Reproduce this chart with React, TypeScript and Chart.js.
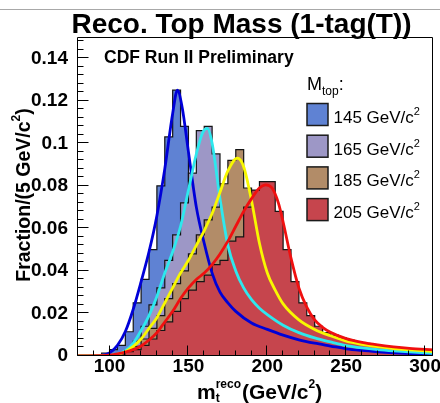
import { useEffect, useRef } from "react";
import { Chart, registerables } from "chart.js";

Chart.register(...registerables);

// ---------- data ----------
const binStarts = [
  80, 85, 90, 95, 100, 105, 110, 115, 120, 125, 130, 135, 140, 145, 150,
  155, 160, 165, 170, 175, 180, 185, 190, 195, 200, 205, 210, 215, 220, 225,
  230, 235, 240, 245, 250, 255, 260, 265, 270, 275, 280, 285, 290, 295, 300,
];
const histEnd = 305;

const hist145 = [
  0, 0, 0, 0.0014, 0.003,
  0.005, 0.0114, 0.025, 0.036, 0.05,
  0.08, 0.103, 0.125, 0.108, 0.082,
  0.062, 0.046, 0.035, 0.028, 0.024,
  0.021, 0.018, 0.016, 0.014, 0.0125,
  0.011, 0.0098, 0.0087, 0.0076, 0.0068,
  0.006, 0.0053, 0.0047, 0.004, 0.0034,
  0.003, 0.0026, 0.0022, 0.0019, 0.0017,
  0.0014, 0.0012, 0.001, 0.0009, 0.0007,
];
const hist165 = [
  0, 0, 0, 0, 0.0003,
  0.001, 0.003, 0.007, 0.014, 0.024,
  0.032, 0.045, 0.057, 0.072, 0.086,
  0.106, 0.108, 0.095, 0.07, 0.05,
  0.039, 0.031, 0.026, 0.022, 0.019,
  0.017, 0.0145, 0.0125, 0.011, 0.0095,
  0.0085, 0.0075, 0.0066, 0.0057, 0.0048,
  0.0042, 0.0037, 0.0033, 0.0029, 0.0026,
  0.0023, 0.002, 0.0018, 0.0016, 0.0014,
];
const hist185 = [
  0, 0, 0, 0, 0.0002,
  0.0008, 0.002, 0.0045, 0.008, 0.013,
  0.019, 0.027, 0.034, 0.04, 0.048,
  0.057, 0.064, 0.07, 0.081, 0.092,
  0.097, 0.079, 0.06, 0.045, 0.036,
  0.029, 0.024, 0.02, 0.017, 0.0145,
  0.0125, 0.0108, 0.0094, 0.0082, 0.0072,
  0.0064, 0.0057, 0.0051, 0.0046, 0.0041,
  0.0037, 0.0034, 0.0031, 0.0028, 0.0025,
];
const hist205 = [
  0, 0, 0, 0.0002, 0.0005,
  0.001, 0.002, 0.003, 0.005, 0.008,
  0.012, 0.016, 0.021, 0.027, 0.031,
  0.035, 0.038, 0.043, 0.045, 0.054,
  0.056, 0.07, 0.078, 0.082, 0.082,
  0.068, 0.05, 0.035, 0.025, 0.019,
  0.014, 0.011, 0.0098, 0.0085, 0.0075,
  0.0068, 0.006, 0.0052, 0.0047, 0.0043,
  0.004, 0.0037, 0.0034, 0.0032, 0.003,
];

const fit145X = [80, 95, 100, 105, 110, 115, 120, 125, 130, 135, 140, 143, 146, 150, 155, 160, 165, 170, 175, 180, 190, 200, 210, 220, 230, 240, 250, 260, 270, 280, 290, 305];
const fit145Y = [0, 0.0003, 0.0015, 0.005, 0.0115, 0.022, 0.035, 0.049, 0.066, 0.088, 0.114, 0.125, 0.117, 0.096, 0.07, 0.053, 0.039, 0.03, 0.025, 0.021, 0.0155, 0.0125, 0.0098, 0.0076, 0.006, 0.0047, 0.0034, 0.0026, 0.002, 0.0015, 0.0011, 0.0006];

const fit165X = [80, 100, 105, 110, 115, 120, 125, 130, 135, 140, 145, 150, 155, 159, 162, 165, 170, 175, 180, 185, 190, 195, 200, 210, 220, 230, 240, 250, 260, 270, 280, 290, 305];
const fit165Y = [0, 0.0002, 0.0008, 0.0025, 0.006, 0.012, 0.019, 0.028, 0.039, 0.049, 0.061, 0.078, 0.095, 0.105, 0.107, 0.1, 0.074, 0.052, 0.04, 0.032, 0.0265, 0.0225, 0.0195, 0.0145, 0.011, 0.0085, 0.0066, 0.0049, 0.0038, 0.003, 0.0024, 0.0019, 0.0013];

const fit185X = [80, 100, 105, 110, 115, 120, 125, 130, 135, 140, 145, 150, 155, 160, 165, 170, 175, 181, 185, 190, 195, 200, 205, 210, 220, 230, 240, 250, 260, 270, 280, 290, 305];
const fit185Y = [0, 0.0002, 0.0008, 0.002, 0.0045, 0.008, 0.013, 0.018, 0.025, 0.032, 0.039, 0.045, 0.052, 0.059, 0.067, 0.077, 0.087, 0.093, 0.089, 0.073, 0.053, 0.039, 0.031, 0.0245, 0.017, 0.0125, 0.0095, 0.007, 0.0055, 0.0044, 0.0035, 0.0029, 0.0021];

const fit205X = [80, 100, 105, 110, 115, 120, 125, 130, 135, 140, 145, 150, 155, 160, 165, 170, 175, 180, 185, 190, 195, 199, 203, 207, 210, 215, 220, 225, 230, 235, 240, 250, 260, 270, 280, 290, 305];
const fit205Y = [0, 0.0004, 0.001, 0.0018, 0.003, 0.0047, 0.0075, 0.011, 0.016, 0.021, 0.027, 0.032, 0.036, 0.039, 0.043, 0.048, 0.054, 0.061, 0.068, 0.074, 0.079, 0.0805, 0.079, 0.072, 0.063, 0.046, 0.032, 0.023, 0.017, 0.0135, 0.0112, 0.0082, 0.0064, 0.0052, 0.0043, 0.0036, 0.0029];

const massLabels = ["145", "165", "185", "205"];
const histColors = ["#5f82d3", "#9d97c6", "#b28c68", "#c6454d"];
const fitColors = ["#0000d8", "#2ee8ee", "#f8f800", "#f01010"];

const xTickValues = [100, 150, 200, 250, 300];
const xTickLabels = ["100", "150", "200", "250", "300"];
const yTickValues = [0, 0.02, 0.04, 0.06, 0.08, 0.1, 0.12, 0.14];
const yTickLabels = ["0", "0.02", "0.04", "0.06", "0.08", "0.1", "0.12", "0.14"];

const X_MIN = 80;
const X_MAX = 305;
const Y_MAX = 0.15;

const titleText = "Reco. Top Mass (1-tag(T))";
const cdfText = "CDF Run II Preliminary";

const FONT = '"Liberation Sans", Arial, Helvetica, sans-serif';

type Run = { t: string; size: number; bold?: boolean; dy?: number };

function runsWidth(ctx: CanvasRenderingContext2D, runs: Run[]) {
  let w = 0;
  for (const r of runs) {
    ctx.font = `${r.bold ? "bold " : ""}${r.size}px ${FONT}`;
    w += ctx.measureText(r.t).width;
  }
  return w;
}

function drawRuns(ctx: CanvasRenderingContext2D, x: number, y: number, runs: Run[], align: "left" | "center") {
  let cx = align === "center" ? x - runsWidth(ctx, runs) / 2 : x;
  ctx.textAlign = "left";
  ctx.textBaseline = "alphabetic";
  for (const r of runs) {
    ctx.font = `${r.bold ? "bold " : ""}${r.size}px ${FONT}`;
    ctx.fillText(r.t, cx, y + (r.dy || 0));
    cx += ctx.measureText(r.t).width;
  }
}

const decorPlugin = {
  id: "decor",
  afterDraw(chart: any) {
    const { ctx, chartArea: a, scales } = chart;
    const xs = scales.x;
    const ys = scales.y;
    ctx.save();
    ctx.fillStyle = "#000";

    // thin grey line at top of the picture
    ctx.strokeStyle = "#a8a8a8";
    ctx.lineWidth = 1;
    ctx.beginPath();
    ctx.moveTo(0, 9.5);
    ctx.lineTo(440, 9.5);
    ctx.stroke();

    // frame
    ctx.strokeStyle = "#000";
    ctx.lineWidth = 1;
    const L = Math.round(a.left) - 0.5;
    const R = Math.round(a.right) - 0.5;
    const T = Math.round(a.top) + 0.5;
    const B = Math.round(a.bottom) - 0.5;
    ctx.beginPath();
    ctx.moveTo(L, T);
    ctx.lineTo(R, T);
    ctx.lineTo(R, B);
    ctx.lineTo(L, B);
    ctx.closePath();
    ctx.stroke();

    // y ticks (inside)
    ctx.beginPath();
    for (let k = 0; k * 0.004 <= Y_MAX + 1e-9; k++) {
      const y = Math.round(ys.getPixelForValue(k * 0.004)) - 0.5;
      const len = k % 5 === 0 ? 11 : 6;
      ctx.moveTo(L, y);
      ctx.lineTo(L + len, y);
    }
    // x ticks (inside)
    for (let g = X_MIN; g <= X_MAX; g += 10) {
      const x = Math.round(xs.getPixelForValue(g)) - 0.5;
      const len = g % 50 === 0 ? 10 : 5;
      ctx.moveTo(x, B);
      ctx.lineTo(x, B - len);
    }
    ctx.stroke();

    // title
    ctx.fillStyle = "#000";
    ctx.font = `bold 28px ${FONT}`;
    ctx.textAlign = "center";
    ctx.textBaseline = "alphabetic";
    ctx.fillText(titleText, 241.5, 33);

    // CDF label
    ctx.font = `bold 17.5px ${FONT}`;
    ctx.textAlign = "left";
    ctx.fillText(cdfText, 104, 63);

    // legend header M_top:
    drawRuns(ctx, 307, 90, [
      { t: "M", size: 18 },
      { t: "top", size: 12, dy: 5 },
      { t: ":", size: 18 },
    ], "left");

    // legend entries
    for (let i = 0; i < massLabels.length; i++) {
      const top = 103.5 + i * 31.7;
      ctx.fillStyle = histColors[i];
      ctx.fillRect(307, top, 21, 22);
      ctx.strokeStyle = "#1a1a1a";
      ctx.lineWidth = 1.5;
      ctx.strokeRect(307, top, 21, 22);
      ctx.fillStyle = "#000";
      drawRuns(ctx, 333.5, top + 19.5, [
        { t: `${massLabels[i]} GeV/c`, size: 17 },
        { t: "2", size: 11, dy: -8 },
      ], "left");
    }

    // x axis title
    ctx.font = `bold 21px ${FONT}`;
    const mW = ctx.measureText("m").width;
    const xTitleStart = 197;
    const base = 398.5;
    ctx.fillText("m", xTitleStart, base);
    ctx.font = `bold 12px ${FONT}`;
    const supW = ctx.measureText("reco").width;
    ctx.fillText("reco", xTitleStart + mW, base - 11);
    ctx.fillText("t", xTitleStart + mW, base + 3);
    drawRuns(ctx, xTitleStart + mW + supW + 1, base, [
      { t: "(GeV/c", size: 21, bold: true },
      { t: "2", size: 12, bold: true, dy: -11 },
      { t: ")", size: 21, bold: true },
    ], "left");

    // y axis title
    ctx.save();
    ctx.translate(30, 195);
    ctx.rotate(-Math.PI / 2);
    drawRuns(ctx, 0, 0, [
      { t: "Fraction/(5 GeV/c", size: 19.5, bold: true },
      { t: "2", size: 12, bold: true, dy: -10 },
      { t: ")", size: 19.5, bold: true },
    ], "center");
    ctx.restore();

    ctx.restore();
  },
};

export default function App() {
  const ref = useRef<HTMLCanvasElement>(null);

  useEffect(() => {
    document.body.style.margin = "0";
    const canvas = ref.current;
    if (!canvas) return;

    const hists = [hist145, hist165, hist185, hist205];
    const fits = [
      [fit145X, fit145Y],
      [fit165X, fit165Y],
      [fit185X, fit185Y],
      [fit205X, fit205Y],
    ];

    const histSets = hists.map((vals, i) => ({
      type: "line" as const,
      label: `${massLabels[i]} GeV/c²`,
      data: [
        ...binStarts.map((x, k) => ({ x, y: vals[k] })),
        { x: histEnd, y: 0 },
      ],
      stepped: true,
      fill: "origin",
      backgroundColor: histColors[i],
      borderColor: "#141414",
      borderWidth: 1.2,
      pointRadius: 0,
      tension: 0,
      order: 7 - i,
    }));

    const fitSets = fits.map(([xs, ys], i) => ({
      type: "line" as const,
      label: `fit ${massLabels[i]}`,
      data: xs.map((x, k) => ({ x, y: ys[k] })),
      fill: false,
      borderColor: fitColors[i],
      borderWidth: 2.8,
      pointRadius: 0,
      cubicInterpolationMode: "monotone" as const,
      order: 3 - i,
    }));

    const tickFont = { family: FONT, size: 19, weight: "bold" as const };

    const chart = new Chart(canvas, {
      type: "line",
      data: { datasets: [...histSets, ...fitSets] as any },
      plugins: [decorPlugin],
      options: {
        responsive: false,
        animation: false,
        devicePixelRatio: 1,
        events: [],
        layout: { padding: { top: 37, right: 7, left: 0, bottom: 0 }, autoPadding: false },
        plugins: {
          legend: { display: false },
          title: { display: false },
          tooltip: { enabled: false },
        },
        scales: {
          x: {
            type: "linear",
            min: X_MIN,
            max: X_MAX,
            grid: { display: false },
            border: { display: false },
            afterFit: (s: any) => { s.height = 47; },
            afterBuildTicks: (s: any) => { s.ticks = xTickValues.map((v) => ({ value: v })); },
            ticks: {
              autoSkip: false,
              maxRotation: 0,
              padding: -9,
              color: "#000",
              font: tickFont,
              callback: (_v: any, i: number) => xTickLabels[i],
            },
          },
          y: {
            type: "linear",
            min: 0,
            max: Y_MAX,
            grid: { display: false },
            border: { display: false },
            afterFit: (s: any) => { s.width = 78; },
            afterBuildTicks: (s: any) => { s.ticks = yTickValues.map((v) => ({ value: v })); },
            ticks: {
              autoSkip: false,
              padding: 2,
              color: "#000",
              font: tickFont,
              callback: (_v: any, i: number) => yTickLabels[i],
            },
          },
        },
      } as any,
    });

    return () => chart.destroy();
  }, []);

  return (
    <div style={{ position: "fixed", left: 0, top: 0, width: 440, height: 403, background: "#fff" }}>
      <canvas ref={ref} width={440} height={403} style={{ width: 440, height: 403, display: "block" }} />
    </div>
  );
}
